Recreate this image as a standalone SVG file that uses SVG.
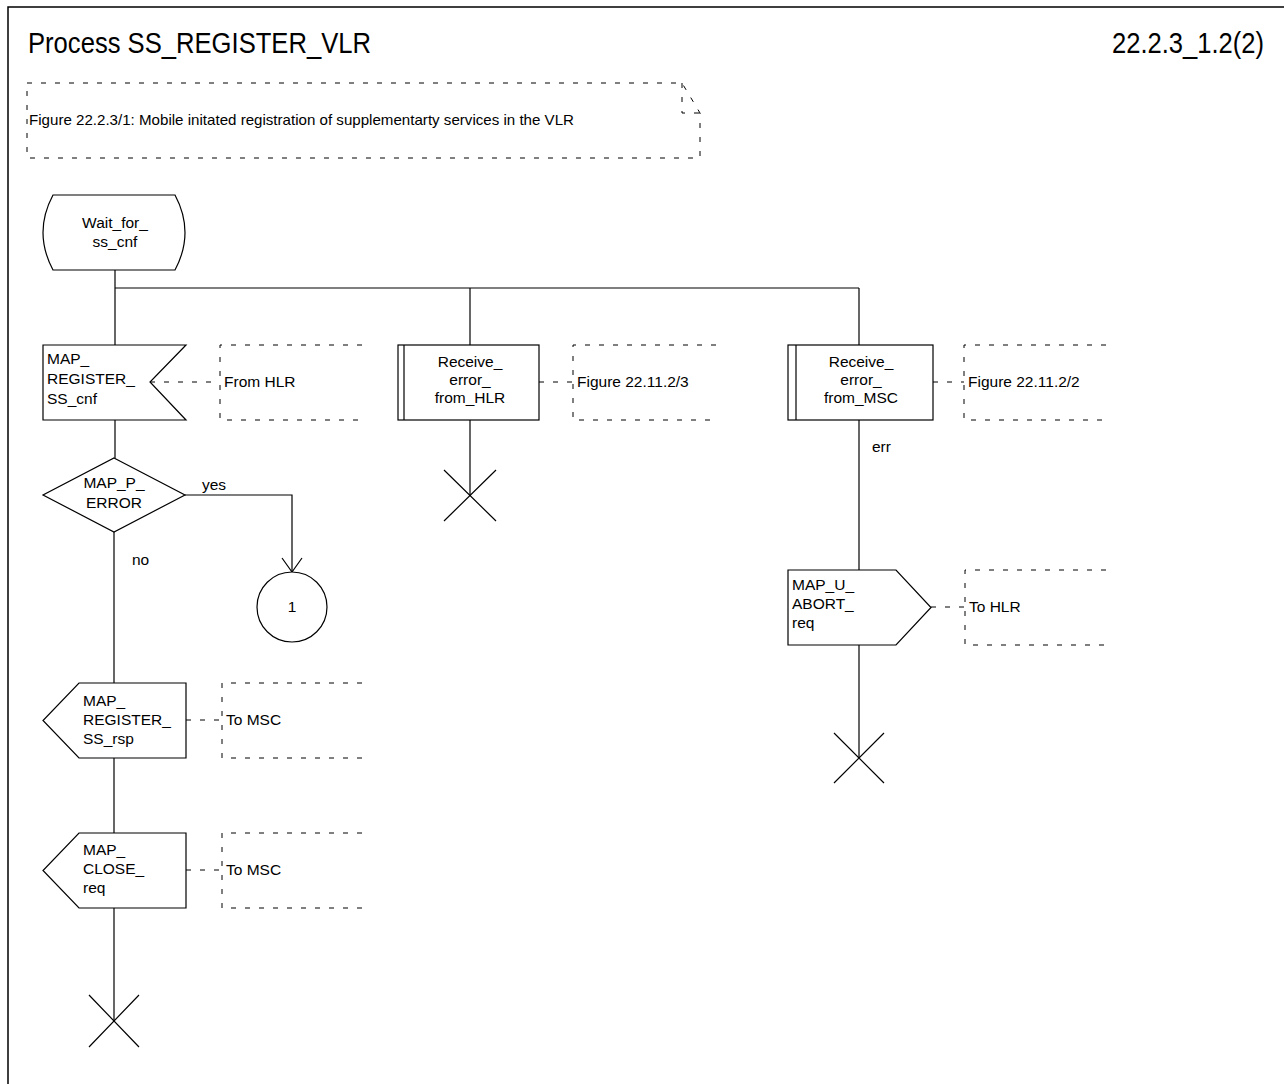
<svg xmlns="http://www.w3.org/2000/svg" width="1284" height="1084" viewBox="0 0 1284 1084">
<style>
.ln{fill:none;stroke:#000;stroke-width:1.2}
.sh{fill:#fff;stroke:#000;stroke-width:1.2}
.ds{fill:none;stroke:#000;stroke-width:1;stroke-dasharray:5,9}
.t{font-family:"Liberation Sans",Arial,sans-serif;font-size:15.5px;fill:#000}
.c{text-anchor:middle}
.big{font-family:"Liberation Sans",Arial,sans-serif;font-size:29px;fill:#000}
</style>
<rect x="0" y="0" width="1284" height="1084" fill="#fff"/>
<path d="M8,1084 V7 H1284" fill="none" stroke="#000" stroke-width="1.5"/>
<text class="big" x="28" y="53" textLength="343" lengthAdjust="spacingAndGlyphs">Process SS_REGISTER_VLR</text>
<text class="big" x="1264" y="53" text-anchor="end" textLength="152" lengthAdjust="spacingAndGlyphs">22.2.3_1.2(2)</text>

<g id="caption">
<path class="ds" d="M27,83 H682 L700,113 V158 H27 Z"/>
<path class="ds" d="M682,83 V113 H700"/>
<text class="t" x="29" y="125" style="font-size:15px" textLength="545" lengthAdjust="spacingAndGlyphs">Figure 22.2.3/1: Mobile initated registration of supplementarty services in the VLR</text>
</g>

<g id="connectors">
<path class="ln" d="M115,270 V345"/>
<path class="ln" d="M115,288 H859"/>
<path class="ln" d="M470,288 V345"/>
<path class="ln" d="M859,288 V345"/>
<path class="ln" d="M115,420 V458"/>
<path class="ln" d="M185,495 H292 V572"/>
<path class="ln" d="M282,558 L292,572 L302,558"/>
<path class="ln" d="M114,532 V683"/>
<path class="ln" d="M114,758 V833"/>
<path class="ln" d="M114,908 V1021"/>
<path class="ln" d="M470,420 V495"/>
<path class="ln" d="M859,420 V570"/>
<path class="ln" d="M859,645 V758"/>
<path class="ds" d="M150,382 H220"/>
<path class="ds" d="M539,382 H573"/>
<path class="ds" d="M933,382 H964"/>
<path class="ds" d="M186,720 H222"/>
<path class="ds" d="M186,870 H222"/>
<path class="ds" d="M931,607 H965"/>
<text class="t" x="202" y="490">yes</text>
<text class="t" x="132" y="565">no</text>
<text class="t" x="872" y="452">err</text>
</g>

<g id="wait_for_ss_cnf">
<path class="sh" d="M53,195 H175 Q195,232.5 175,270 H53 Q33,232.5 53,195 Z"/>
<text class="t c" x="115" y="228">Wait_for_</text>
<text class="t c" x="115" y="247">ss_cnf</text>
</g>

<g id="map_register_ss_cnf">
<polygon class="sh" points="43,345 186,345 150,382 186,420 43,420"/>
<text class="t" x="47" y="364">MAP_</text>
<text class="t" x="47" y="384">REGISTER_</text>
<text class="t" x="47" y="404">SS_cnf</text>
</g>
<g id="from_hlr">
<path class="ds" d="M362,345 H220 V420 H362"/>
<text class="t" x="224" y="387">From HLR</text>
</g>

<g id="map_p_error">
<polygon class="sh" points="114,458 185,495 114,532 43,495"/>
<text class="t c" x="114" y="488">MAP_P_</text>
<text class="t c" x="114" y="508">ERROR</text>
</g>

<g id="connector_1">
<circle class="sh" cx="292" cy="607" r="35"/>
<text class="t c" x="292" y="612">1</text>
</g>

<g id="map_register_ss_rsp">
<polygon class="sh" points="79,683 186,683 186,758 79,758 43,720.5"/>
<text class="t" x="83" y="706">MAP_</text>
<text class="t" x="83" y="725">REGISTER_</text>
<text class="t" x="83" y="744">SS_rsp</text>
</g>
<g id="to_msc_1">
<path class="ds" d="M362,683 H222 V758 H362"/>
<text class="t" x="226" y="725">To MSC</text>
</g>

<g id="map_close_req">
<polygon class="sh" points="79,833 186,833 186,908 79,908 43,870.5"/>
<text class="t" x="83" y="855">MAP_</text>
<text class="t" x="83" y="874">CLOSE_</text>
<text class="t" x="83" y="893">req</text>
</g>
<g id="to_msc_2">
<path class="ds" d="M362,833 H222 V908 H362"/>
<text class="t" x="226" y="875">To MSC</text>
</g>

<g id="stop_1">
<path class="ln" d="M89,995 L139,1047 M139,995 L89,1047"/>
</g>

<g id="receive_error_from_hlr">
<rect class="sh" x="398" y="345" width="141" height="75"/>
<path class="ln" d="M404,345 V420"/>
<text class="t c" x="470" y="367">Receive_</text>
<text class="t c" x="470" y="385">error_</text>
<text class="t c" x="470" y="403">from_HLR</text>
</g>
<g id="fig_22_11_2_3">
<path class="ds" d="M716,345 H573 V420 H716"/>
<text class="t" x="577" y="387">Figure 22.11.2/3</text>
</g>
<g id="stop_2">
<path class="ln" d="M444,470 L496,521 M496,470 L444,521"/>
</g>

<g id="receive_error_from_msc">
<rect class="sh" x="788" y="345" width="145" height="75"/>
<path class="ln" d="M796,345 V420"/>
<text class="t c" x="861" y="367">Receive_</text>
<text class="t c" x="861" y="385">error_</text>
<text class="t c" x="861" y="403">from_MSC</text>
</g>
<g id="fig_22_11_2_2">
<path class="ds" d="M1106,345 H964 V420 H1106"/>
<text class="t" x="968" y="387">Figure 22.11.2/2</text>
</g>

<g id="map_u_abort_req">
<polygon class="sh" points="788,570 896,570 931,607.5 896,645 788,645"/>
<text class="t" x="792" y="590">MAP_U_</text>
<text class="t" x="792" y="609">ABORT_</text>
<text class="t" x="792" y="628">req</text>
</g>
<g id="to_hlr">
<path class="ds" d="M1106,570 H965 V645 H1106"/>
<text class="t" x="969" y="612">To HLR</text>
</g>
<g id="stop_3">
<path class="ln" d="M834,733 L884,783 M884,733 L834,783"/>
</g>
</svg>
